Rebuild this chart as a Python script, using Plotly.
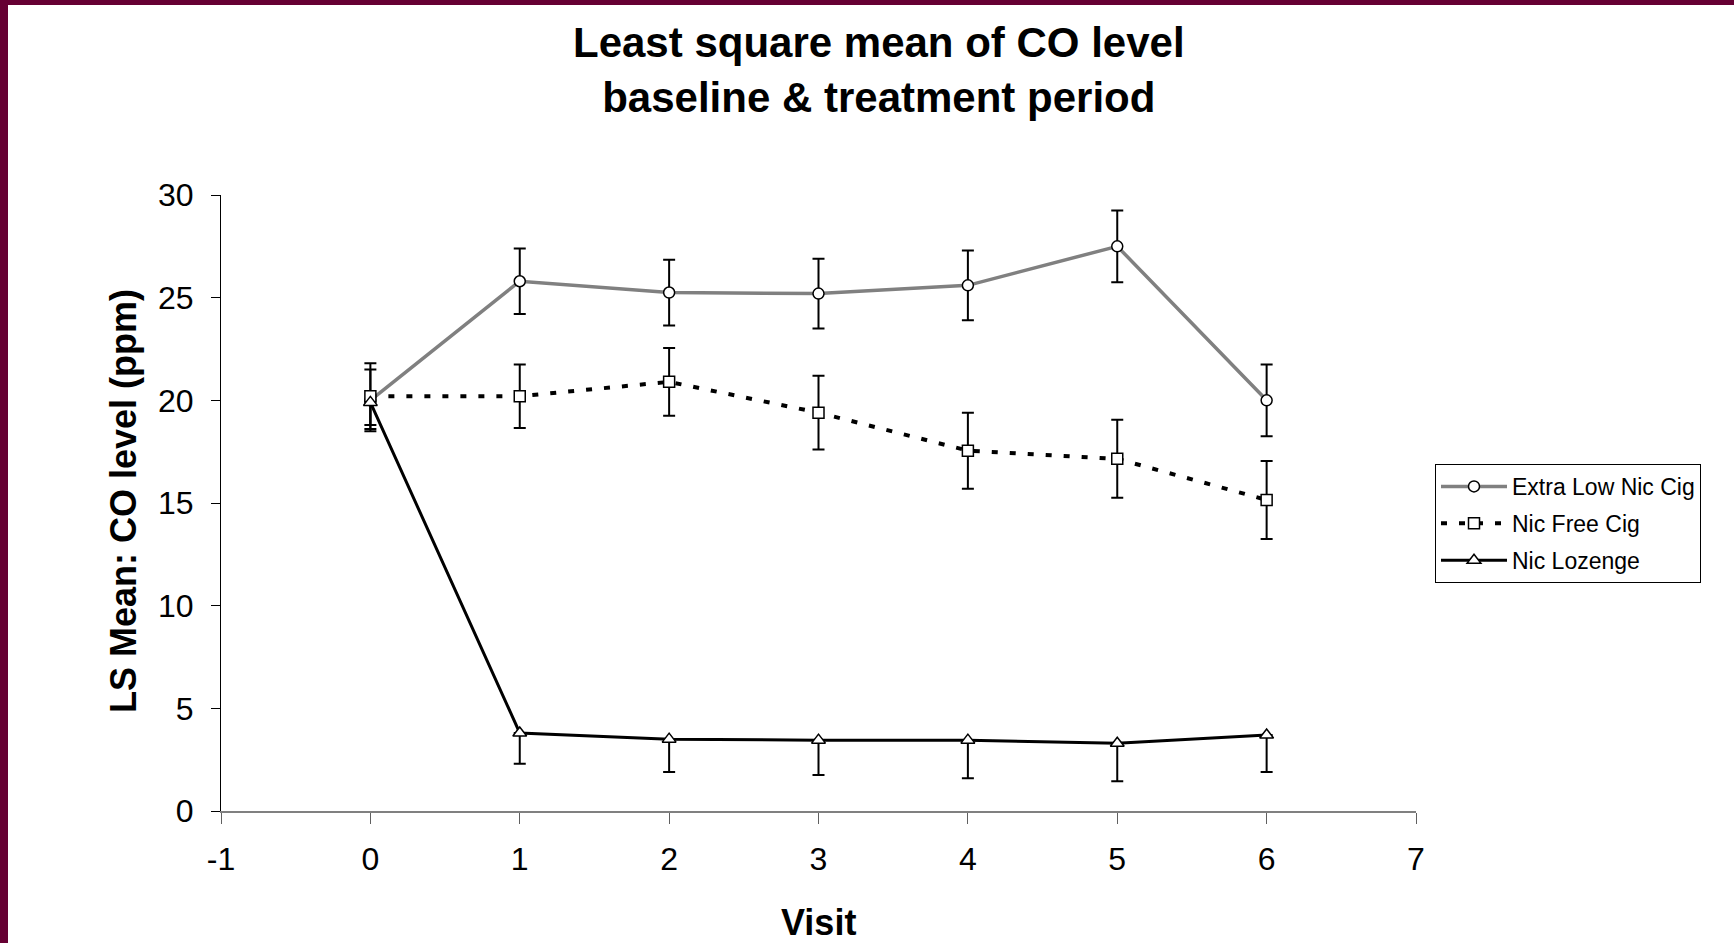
import plotly.graph_objects as go

visits = [0, 1, 2, 3, 4, 5, 6]
series_names = ["Extra Low Nic Cig", "Nic Free Cig", "Nic Lozenge"]

extra_low = [20.0, 25.8, 25.25, 25.2, 25.6, 27.5, 20.0]
extra_low_err = [1.5, 1.6, 1.6, 1.7, 1.7, 1.75, 1.75]

nic_free = [20.2, 20.2, 20.9, 19.4, 17.55, 17.15, 15.15]
nic_free_err = [1.6, 1.55, 1.65, 1.8, 1.85, 1.9, 1.9]

lozenge = [19.9, 3.8, 3.5, 3.45, 3.45, 3.3, 3.7]
lozenge_err_minus = [1.1, 1.5, 1.6, 1.7, 1.85, 1.85, 1.8]
lozenge_err_plus = [0, 0, 0, 0, 0, 0, 0]

x_ticks = [-1, 0, 1, 2, 3, 4, 5, 6, 7]
y_ticks = [0, 5, 10, 15, 20, 25, 30]

W, H = 1734, 943
ML, MR, MT, MB = 221, 318, 195, 132
PW = W - ML - MR
PH = H - MT - MB

FONT = "Liberation Sans, Arial, sans-serif"
MAROON = "#660033"

fig = go.Figure()

fig.add_trace(go.Scatter(
    x=visits, y=extra_low, name=series_names[0], mode="lines+markers", legendgroup="a",
    line=dict(color="#808080", width=3.5),
    marker=dict(symbol="circle", size=11, color="white", line=dict(color="black", width=1.5)),
    error_y=dict(type="data", array=extra_low_err, color="black", thickness=2, width=6),
))
fig.add_trace(go.Scatter(
    x=visits, y=nic_free, name=series_names[1], mode="lines+markers", legendgroup="b",
    line=dict(color="black", width=4, dash="6px,12px"),
    marker=dict(symbol="square", size=11, color="white", line=dict(color="black", width=1.5)),
    error_y=dict(type="data", array=nic_free_err, color="black", thickness=2, width=6),
))
fig.add_trace(go.Scatter(
    x=visits, y=lozenge, name=series_names[2], mode="lines+markers", legendgroup="c",
    line=dict(color="black", width=3),
    marker=dict(symbol="triangle-up", size=12, color="white", line=dict(color="black", width=1.5)),
    error_y=dict(type="data", symmetric=False, array=lozenge_err_plus,
                 arrayminus=lozenge_err_minus, color="black", thickness=2, width=6),
))

def px_x(p):
    return (p - ML) / PW

def px_y(p):
    return (H - MB - p) / PH

shapes = [
    dict(type="rect", xref="paper", yref="paper", x0=px_x(-5), x1=px_x(8),
         y0=px_y(H + 5), y1=px_y(-5), fillcolor=MAROON, line=dict(width=0), layer="above"),
    dict(type="rect", xref="paper", yref="paper", x0=px_x(-5), x1=px_x(W + 5),
         y0=px_y(5), y1=px_y(-5), fillcolor=MAROON, line=dict(width=0), layer="above"),
]

annotations = [
    dict(text="<b>Least square mean of CO level<br>baseline &amp; treatment period</b>",
         xref="paper", yref="paper", x=px_x(879), y=px_y(70), xanchor="center", yanchor="middle",
         showarrow=False, font=dict(family=FONT, size=42, color="black")),
    dict(text="<b>Visit</b>", xref="paper", yref="paper", x=px_x(819), y=px_y(922),
         xanchor="center", yanchor="middle", showarrow=False,
         font=dict(family=FONT, size=36, color="black")),
    dict(text="<b>LS Mean: CO level (ppm)</b>", xref="paper", yref="paper", x=px_x(123), y=px_y(501),
         xanchor="center", yanchor="middle", textangle=-90, showarrow=False,
         font=dict(family=FONT, size=36, color="black")),
]

fig.update_layout(
    width=W, height=H,
    margin=dict(l=ML, r=MR, t=MT, b=MB, pad=0),
    paper_bgcolor="white", plot_bgcolor="white",
    font=dict(family=FONT, color="black"),
    showlegend=True,
    legend=dict(x=px_x(1435), y=px_y(464), xanchor="left", yanchor="top",
                bgcolor="white", bordercolor="black", borderwidth=1,
                font=dict(family=FONT, size=23, color="black"),
                traceorder="grouped", tracegroupgap=4, itemwidth=66),
    shapes=shapes,
    annotations=annotations,
)

fig.update_xaxes(
    range=[-1, 7], tickvals=x_ticks, ticktext=[str(v) for v in x_ticks],
    showgrid=False, zeroline=False, showline=True, linecolor="#808080", linewidth=1.5,
    ticks="outside", ticklen=11, tickwidth=1.2, tickcolor="#606060",
    tickfont=dict(family=FONT, size=32, color="black"), ticklabelstandoff=8,
)
fig.update_yaxes(
    range=[0, 30], tickvals=y_ticks,
    showgrid=False, zeroline=False, showline=True, linecolor="black", linewidth=1,
    ticks="outside", ticklen=9, tickwidth=1, tickcolor="black",
    tickfont=dict(family=FONT, size=32, color="black"), ticklabelstandoff=11,
)

fig.write_html("out.html", config={"displayModeBar": False},
               post_script="document.body.style.margin='0';document.body.style.overflow='hidden';")
